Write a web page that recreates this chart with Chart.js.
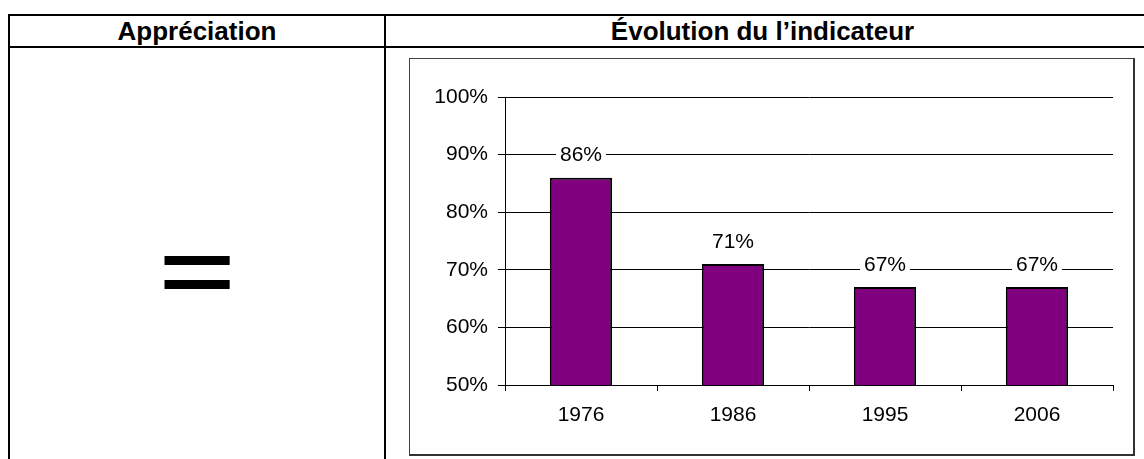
<!DOCTYPE html>
<html>
<head>
<meta charset="utf-8">
<script src="https://cdn.jsdelivr.net/npm/chart.js@4.4.1/dist/chart.umd.min.js"></script>
<style>
  html, body { margin: 0; padding: 0; background: #fff; overflow: hidden; }
  body { width: 1144px; height: 459px; position: relative; font-family: "Liberation Sans", Arial, sans-serif; }
  .line { position: absolute; background: #000; }
  .head { position: absolute; top: 16px; height: 30px; line-height: 30px; font-weight: bold; font-size: 26px; text-align: center; }
  #egal { position: absolute; left: 130px; width: 134px; top: 181px; height: 180px; line-height: 180px; text-align: center; font-size: 128px;
          -webkit-text-stroke: 3px #000; transform: scaleY(0.74); transform-origin: 50% 50%; }
  #box { position: absolute; left: 409px; top: 58px; width: 723px; height: 395px; border: 1px solid #444; border-right: 2px solid #333; border-bottom: 2px solid #333; }
  #chart { position: absolute; left: 0; top: 0; }
</style>
</head>
<body>
<div class="line" style="left:8px; top:14px; width:1140px; height:2px"></div>
<div class="line" style="left:8px; top:46px; width:1140px; height:2px"></div>
<div class="line" style="left:8px; top:14px; width:2px; height:445px"></div>
<div class="line" style="left:384px; top:14px; width:2px; height:445px"></div>
<div class="head" style="left:10px; width:374px">Appréciation</div>
<div class="head" style="left:386px; width:753px">Évolution du l’indicateur</div>
<div id="egal">=</div>
<div id="box"><canvas id="chart" width="723" height="395"></canvas></div>

<script>
// données
const annees = ['1976', '1986', '1995', '2006'];
const valeurs = [86, 71, 67, 67];
const graduations = [50, 60, 70, 80, 90, 100];

// étiquettes au-dessus des barres, sur fond blanc
const etiquettes = {
  id: 'etiquettes',
  afterDatasetsDraw(chart) {
    const ctx = chart.ctx;
    const meta = chart.getDatasetMeta(0);
    ctx.save();
    ctx.font = '21px "Liberation Sans", Arial, sans-serif';
    ctx.textAlign = 'center';
    ctx.textBaseline = 'middle';
    meta.data.forEach((bar, i) => {
      const txt = valeurs[i] + '%';
      const w = ctx.measureText(txt).width;
      const y = bar.y - 23;
      ctx.fillStyle = '#fff';
      ctx.fillRect(bar.x - w / 2 - 4, y - 9, w + 8, 18);
      ctx.fillStyle = '#000';
      ctx.fillText(txt, bar.x, y + 1);
    });
    ctx.restore();
  }
};

const ctx = document.getElementById('chart').getContext('2d');
new Chart(ctx, {
  type: 'bar',
  data: {
    labels: annees,
    datasets: [{
      data: valeurs,
      backgroundColor: '#800080',
      borderColor: '#000',
      borderWidth: 2,
      barPercentage: 0.41,
      categoryPercentage: 1
    }]
  },
  options: {
    responsive: false,
    animation: false,
    devicePixelRatio: 1,
    layout: { padding: { top: 38, right: 20, left: 0, bottom: 0 } },
    plugins: { legend: { display: false }, tooltip: { enabled: false } },
    scales: {
      x: {
        grid: { drawOnChartArea: false, drawTicks: true, tickLength: 6, color: '#000' },
        border: { color: '#000', width: 1 },
        ticks: { color: '#000', padding: 12, font: { family: '"Liberation Sans", Arial', size: 21 } },
        afterFit: s => { s.height = 69; }
      },
      y: {
        min: 50,
        max: 100,
        afterBuildTicks: s => { s.ticks = graduations.map(v => ({ value: v })); },
        grid: { color: '#000', tickLength: 7 },
        border: { color: '#000', width: 1 },
        ticks: {
          color: '#000', padding: 10,
          font: { family: '"Liberation Sans", Arial', size: 21 },
          callback: v => v + '%'
        },
        afterFit: s => { s.width = 95; }
      }
    }
  },
  plugins: [etiquettes]
});
</script>
</body>
</html>
